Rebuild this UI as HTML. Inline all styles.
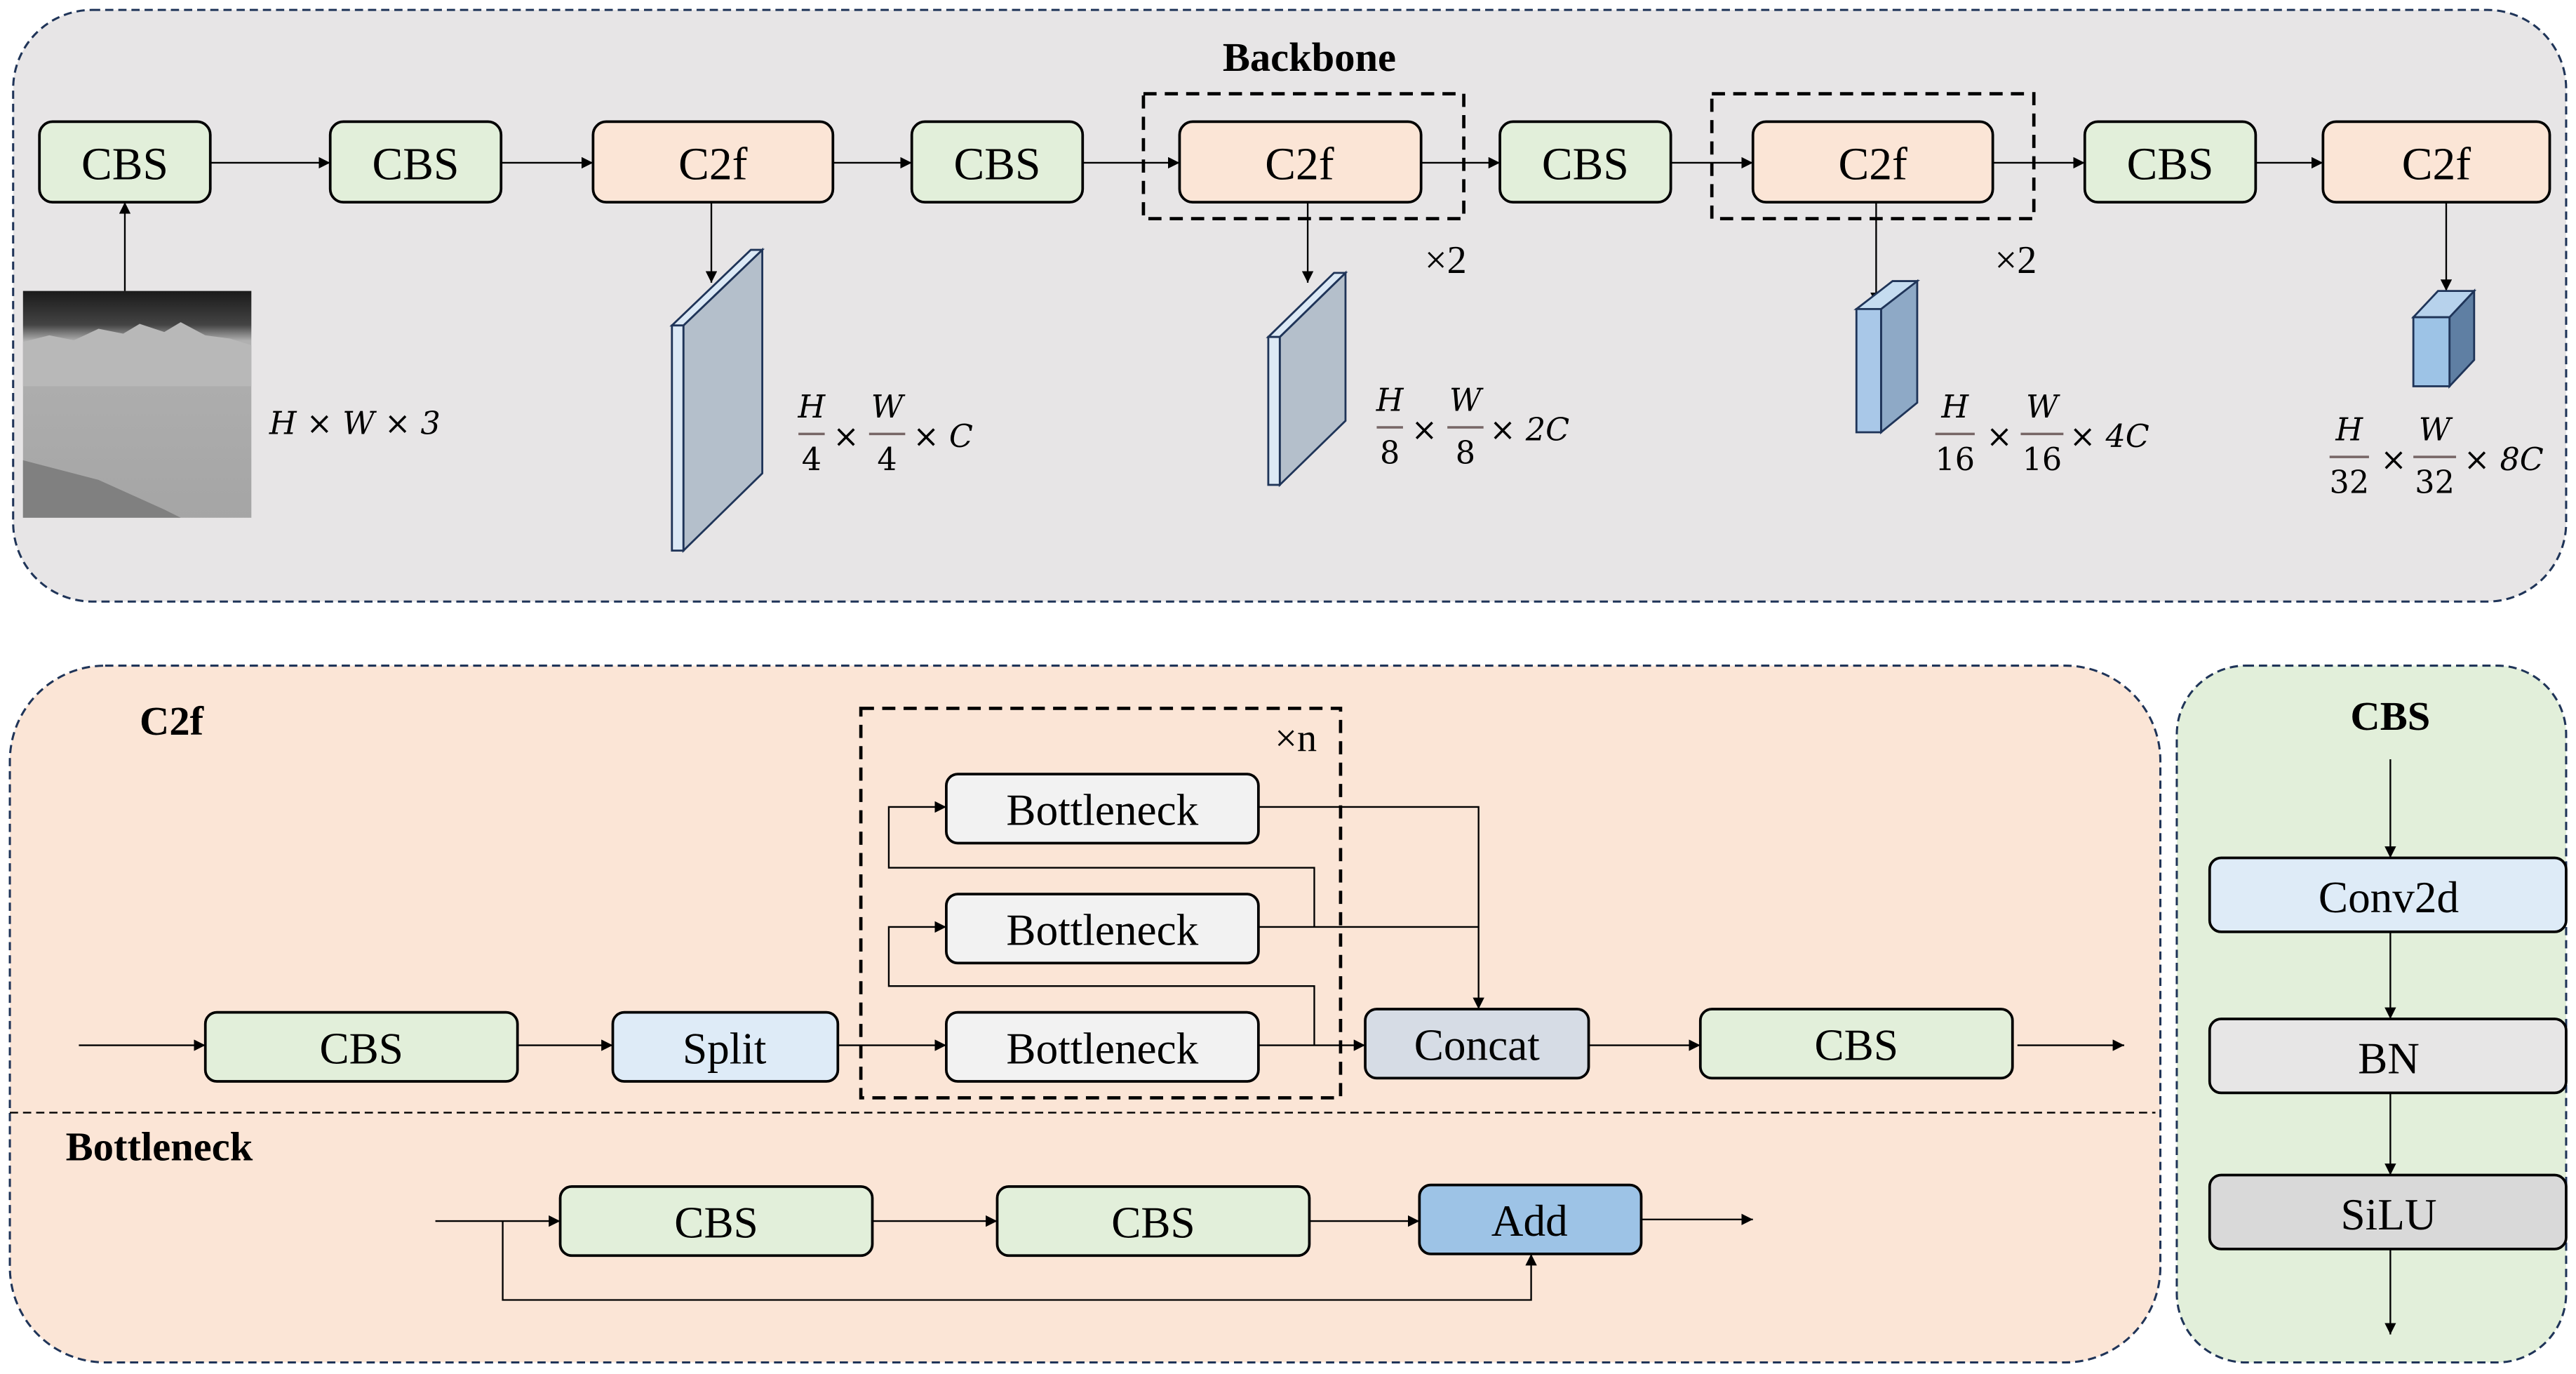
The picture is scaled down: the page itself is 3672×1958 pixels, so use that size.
<!DOCTYPE html>
<html><head><meta charset="utf-8"><style>html,body{margin:0;padding:0;background:#fff}svg{display:block}</style></head><body>
<svg xmlns="http://www.w3.org/2000/svg" width="3672" height="1958" viewBox="0 0 1568 836" font-family="Liberation Serif, serif">
<defs>
<marker id="a" viewBox="0 0 10 10" refX="10" refY="5" markerWidth="7" markerHeight="7" markerUnits="userSpaceOnUse" orient="auto"><path d="M0,0L10,5L0,10z" fill="#000"/></marker>
<linearGradient id="img" x1="0" y1="0" x2="0" y2="1"><stop offset="0" stop-color="#1a1a1a"/><stop offset="0.15" stop-color="#444"/><stop offset="0.22" stop-color="#b0b0b0"/><stop offset="1" stop-color="#a5a5a5"/></linearGradient>
</defs>
<rect width="1568" height="836" fill="#fff"/>
<rect x="8" y="6" width="1554" height="360" rx="48" fill="#e7e5e6" stroke="#1f3458" stroke-width="1.3" stroke-dasharray="5,3"/>
<text x="797" y="43" font-size="25" font-weight="bold" text-anchor="middle">Backbone</text>
<g stroke="#000" stroke-width="1.6">
<rect x="24" y="74" width="104" height="49" rx="8" fill="#e2efda"/>
<rect x="201" y="74" width="104" height="49" rx="8" fill="#e2efda"/>
<rect x="361" y="74" width="146" height="49" rx="8" fill="#fbe5d6"/>
<rect x="555" y="74" width="104" height="49" rx="8" fill="#e2efda"/>
<rect x="718" y="74" width="147" height="49" rx="8" fill="#fbe5d6"/>
<rect x="913" y="74" width="104" height="49" rx="8" fill="#e2efda"/>
<rect x="1067" y="74" width="146" height="49" rx="8" fill="#fbe5d6"/>
<rect x="1269" y="74" width="104" height="49" rx="8" fill="#e2efda"/>
<rect x="1414" y="74" width="138" height="49" rx="8" fill="#fbe5d6"/>
</g>
<rect x="696" y="57" width="195" height="76" fill="none" stroke="#000" stroke-width="2" stroke-dasharray="8,5"/>
<rect x="1042" y="57" width="196" height="76" fill="none" stroke="#000" stroke-width="2" stroke-dasharray="8,5"/>
<g font-size="28" text-anchor="middle">
<text x="76" y="109">CBS</text><text x="253" y="109">CBS</text><text x="434" y="109">C2f</text><text x="607" y="109">CBS</text><text x="791" y="109">C2f</text><text x="965" y="109">CBS</text><text x="1140" y="109">C2f</text><text x="1321" y="109">CBS</text><text x="1483" y="109">C2f</text>
<text x="880" y="166" font-size="24">×2</text><text x="1227" y="166" font-size="24">×2</text>
</g>
<g stroke="#000" stroke-width="1" marker-end="url(#a)">
<line x1="128" y1="99" x2="201" y2="99"/><line x1="305" y1="99" x2="361" y2="99"/><line x1="507" y1="99" x2="555" y2="99"/><line x1="659" y1="99" x2="718" y2="99"/><line x1="865" y1="99" x2="913" y2="99"/><line x1="1017" y1="99" x2="1067" y2="99"/><line x1="1213" y1="99" x2="1269" y2="99"/><line x1="1373" y1="99" x2="1414" y2="99"/>
<line x1="76" y1="177" x2="76" y2="123"/>
<line x1="433" y1="123" x2="433" y2="172"/><line x1="796" y1="123" x2="796" y2="172"/><line x1="1142" y1="123" x2="1142" y2="185"/><line x1="1489" y1="123" x2="1489" y2="177"/>
</g>
<rect x="14" y="177" width="139" height="138" fill="url(#img)"/>
<path d="M14,208 L30,204 L45,207 L60,200 L75,203 L85,197 L100,202 L110,196 L125,204 L140,206 L153,210 L153,235 L14,235z" fill="#b8b8b8"/>
<path d="M14,280 L60,292 L100,310 L110,315 L14,315z" fill="#808080"/>
<g stroke="#1f3458" stroke-width="1.2">
<polygon points="416,198 464,152 464,288 416,335" fill="#b4bfcb"/>
<polygon points="409,198 457,152 464,152 416,198" fill="#dce9f5"/>
<rect x="409" y="198" width="7" height="137" fill="#dce9f5"/>
<polygon points="779,205 819,166 819,256 779,295" fill="#b4bfcb"/>
<polygon points="772,205 812,166 819,166 779,205" fill="#dce9f5"/>
<rect x="772" y="205" width="7" height="90" fill="#dce9f5"/>
<polygon points="1145,188 1167,171 1167,245 1145,263" fill="#8ea9c6"/>
<polygon points="1130,188 1152,171 1167,171 1145,188" fill="#c5dcf0"/>
<rect x="1130" y="188" width="15" height="75" fill="#a9c8e8"/>
<polygon points="1491,193 1506,177 1506,219 1491,235" fill="#5f7fa3"/>
<polygon points="1469,193 1484,177 1506,177 1491,193" fill="#b7d2ec"/>
<rect x="1469" y="193" width="22" height="42" fill="#9dc3e6"/>
</g>
<g font-family="DejaVu Serif, Liberation Serif, serif" font-size="19" text-anchor="middle">
<text x="216" y="264" font-style="italic">H × W × 3</text>
<text x="494" y="254" font-style="italic">H</text><text x="494" y="286">4</text><line x1="486" y1="264" x2="502" y2="264" stroke="#766" stroke-width="1.5"/><text x="515" y="272">×</text>
<text x="540" y="254" font-style="italic">W</text><text x="540" y="286">4</text><line x1="529" y1="264" x2="551" y2="264" stroke="#766" stroke-width="1.5"/><text x="574" y="272" font-style="italic">× C</text>
<text x="846" y="250" font-style="italic">H</text><text x="846" y="282">8</text><line x1="838" y1="260" x2="854" y2="260" stroke="#766" stroke-width="1.5"/><text x="867" y="268">×</text>
<text x="892" y="250" font-style="italic">W</text><text x="892" y="282">8</text><line x1="881" y1="260" x2="903" y2="260" stroke="#766" stroke-width="1.5"/><text x="931" y="268" font-style="italic">× 2C</text>
<text x="1190" y="254" font-style="italic">H</text><text x="1190" y="286">16</text><line x1="1178" y1="264" x2="1202" y2="264" stroke="#766" stroke-width="1.5"/><text x="1217" y="272">×</text>
<text x="1243" y="254" font-style="italic">W</text><text x="1243" y="286">16</text><line x1="1230" y1="264" x2="1256" y2="264" stroke="#766" stroke-width="1.5"/><text x="1284" y="272" font-style="italic">× 4C</text>
<text x="1430" y="268" font-style="italic">H</text><text x="1430" y="300">32</text><line x1="1418" y1="278" x2="1442" y2="278" stroke="#766" stroke-width="1.5"/><text x="1457" y="286">×</text>
<text x="1482" y="268" font-style="italic">W</text><text x="1482" y="300">32</text><line x1="1469" y1="278" x2="1495" y2="278" stroke="#766" stroke-width="1.5"/><text x="1524" y="286" font-style="italic">× 8C</text>
</g>
<rect x="6" y="405" width="1309" height="424" rx="58" fill="#fbe5d6" stroke="#1f3458" stroke-width="1.3" stroke-dasharray="5,3"/>
<line x1="6" y1="677" x2="1312" y2="677" stroke="#000" stroke-width="1" stroke-dasharray="5,3"/>
<text x="85" y="447" font-size="25" font-weight="bold">C2f</text>
<text x="40" y="706" font-size="25" font-weight="bold">Bottleneck</text>
<rect x="524" y="431" width="292" height="237" fill="none" stroke="#000" stroke-width="2" stroke-dasharray="8,5"/>
<text x="776" y="457" font-size="24">×n</text>
<g stroke="#000" stroke-width="1.6">
<rect x="576" y="471" width="190" height="42" rx="7" fill="#f2f2f2"/>
<rect x="576" y="544" width="190" height="42" rx="7" fill="#f2f2f2"/>
<rect x="576" y="616" width="190" height="42" rx="7" fill="#f2f2f2"/>
<rect x="125" y="616" width="190" height="42" rx="7" fill="#e2efda"/>
<rect x="373" y="616" width="137" height="42" rx="7" fill="#deebf7"/>
<rect x="831" y="614" width="136" height="42" rx="7" fill="#d6dce5"/>
<rect x="1035" y="614" width="190" height="42" rx="7" fill="#e2efda"/>
<rect x="341" y="722" width="190" height="42" rx="7" fill="#e2efda"/>
<rect x="607" y="722" width="190" height="42" rx="7" fill="#e2efda"/>
<rect x="864" y="721" width="135" height="42" rx="7" fill="#9dc3e6"/>
</g>
<g font-size="27" text-anchor="middle">
<text x="671" y="502">Bottleneck</text><text x="671" y="575">Bottleneck</text><text x="671" y="647">Bottleneck</text>
<text x="220" y="647">CBS</text><text x="441" y="647">Split</text><text x="899" y="645">Concat</text><text x="1130" y="645">CBS</text>
<text x="436" y="753">CBS</text><text x="702" y="753">CBS</text><text x="931" y="752">Add</text>
</g>
<g stroke="#000" stroke-width="1" fill="none">
<line x1="48" y1="636" x2="125" y2="636" marker-end="url(#a)"/>
<line x1="315" y1="636" x2="373" y2="636" marker-end="url(#a)"/>
<line x1="510" y1="636" x2="576" y2="636" marker-end="url(#a)"/>
<line x1="766" y1="636" x2="831" y2="636" marker-end="url(#a)"/>
<line x1="967" y1="636" x2="1035" y2="636" marker-end="url(#a)"/>
<line x1="1228" y1="636" x2="1293" y2="636" marker-end="url(#a)"/>
<polyline points="766,491 900,491 900,614" marker-end="url(#a)"/>
<line x1="766" y1="564" x2="900" y2="564"/>
<polyline points="800,564 800,528 541,528 541,491 576,491" marker-end="url(#a)"/>
<polyline points="800,636 800,600 541,600 541,564 576,564" marker-end="url(#a)"/>
<line x1="265" y1="743" x2="341" y2="743" marker-end="url(#a)"/>
<line x1="531" y1="743" x2="607" y2="743" marker-end="url(#a)"/>
<line x1="797" y1="743" x2="864" y2="743" marker-end="url(#a)"/>
<line x1="999" y1="742" x2="1067" y2="742" marker-end="url(#a)"/>
<polyline points="306,743 306,791 932,791 932,763" marker-end="url(#a)"/>
</g>
<rect x="1325" y="405" width="237" height="424" rx="42" fill="#e2efda" stroke="#1f3458" stroke-width="1.3" stroke-dasharray="5,3"/>
<text x="1455" y="444" font-size="25" font-weight="bold" text-anchor="middle">CBS</text>
<g stroke="#000" stroke-width="1.6">
<rect x="1345" y="522" width="217" height="45" rx="7" fill="#deebf7"/>
<rect x="1345" y="620" width="217" height="45" rx="7" fill="#e7e6e6"/>
<rect x="1345" y="715" width="217" height="45" rx="7" fill="#d9d9d9"/>
</g>
<g font-size="27" text-anchor="middle">
<text x="1454" y="555">Conv2d</text><text x="1454" y="653">BN</text><text x="1454" y="748">SiLU</text>
</g>
<g stroke="#000" stroke-width="1" marker-end="url(#a)">
<line x1="1455" y1="462" x2="1455" y2="522"/><line x1="1455" y1="567" x2="1455" y2="620"/><line x1="1455" y1="665" x2="1455" y2="715"/><line x1="1455" y1="760" x2="1455" y2="812"/>
</g>
</svg>
</body></html>
